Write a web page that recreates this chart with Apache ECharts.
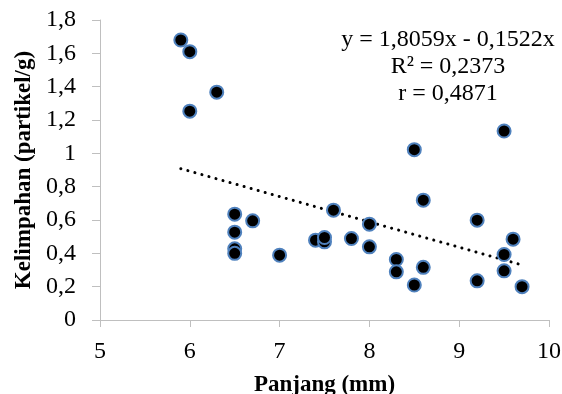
<!DOCTYPE html>
<html>
<head>
<meta charset="utf-8">
<script src="https://cdn.jsdelivr.net/npm/echarts@6/dist/echarts.min.js"></script>
<style>
html,body{margin:0;padding:0;background:#fff;}
#chart{width:562px;height:394px;}
</style>
</head>
<body>
<div id="chart"></div>
<script>
// Panjang (mm)
var lengths = [5.9, 6.0, 6.3, 6.0, 6.5, 6.7, 6.5, 6.5, 6.5, 7.0, 7.4, 7.5, 7.5, 7.6, 7.8, 8.0, 8.0, 8.3, 8.3, 8.5, 8.5, 8.6, 8.6, 9.2, 9.2, 9.5, 9.5, 9.5, 9.6, 9.7];
// Kelimpahan (partikel/g)
var abundance = [1.68, 1.61, 1.367, 1.253, 0.635, 0.595, 0.527, 0.427, 0.40, 0.389, 0.479, 0.469, 0.495, 0.659, 0.489, 0.575, 0.439, 0.363, 0.289, 1.022, 0.21, 0.719, 0.316, 0.599, 0.235, 1.134, 0.393, 0.295, 0.485, 0.2];
// Trendline end points
var trendX = [5.9, 9.7];
var trendY = [0.908, 0.330];
var eqLines = ['y = 1,8059x - 0,1522x', 'R\u00b2 = 0,2373', 'r = 0,4871'];
var xTitle = 'Panjang (mm)';
var yTitle = 'Kelimpahan (partikel/g)';

var points = lengths.map(function (x, i) { return [x, abundance[i]]; });
var trend = trendX.map(function (x, i) { return [x, trendY[i]]; });

var FONT = '"Liberation Serif", "Times New Roman", serif';
var fmt = function (v) { return String(+(+v).toFixed(1)).replace('.', ','); };

var chart = echarts.init(document.getElementById('chart'), null, {renderer: 'canvas'});
chart.setOption({
  animation: false,
  backgroundColor: '#ffffff',
  grid: {left: 100, right: 13, top: 20, bottom: 74, containLabel: false, outerBoundsMode: 'none'},
  xAxis: {
    type: 'value', min: 5, max: 10, interval: 1,
    name: xTitle, nameLocation: 'middle', nameGap: 54,
    nameTextStyle: {fontFamily: FONT, fontSize: 23, fontWeight: 'bold', color: '#000'},
    axisLine: {show: true, lineStyle: {color: '#bfbfbf', width: 1}},
    axisTick: {show: true, length: 7, lineStyle: {color: '#bfbfbf'}},
    axisLabel: {fontFamily: FONT, fontSize: 24, color: '#000', margin: 20, formatter: fmt},
    splitLine: {show: false}
  },
  yAxis: {
    type: 'value', min: 0, max: 1.8, interval: 0.2,
    name: yTitle, nameLocation: 'middle', nameGap: 63, nameRotate: 90,
    nameTextStyle: {fontFamily: FONT, fontSize: 23, fontWeight: 'bold', color: '#000'},
    axisLine: {show: true, lineStyle: {color: '#bfbfbf', width: 1}},
    axisTick: {show: true, length: 8, lineStyle: {color: '#bfbfbf'}},
    axisLabel: {fontFamily: FONT, fontSize: 24, color: '#000', margin: 24, formatter: fmt},
    splitLine: {show: false}
  },
  series: [
    {
      type: 'line', data: trend, symbol: 'none', z: 2,
      lineStyle: {color: '#000', width: 3, type: [0.1, 7.2], cap: 'round'}
    },
    {
      type: 'scatter', data: points, symbol: 'circle', symbolSize: 13, z: 3,
      itemStyle: {color: '#000', borderColor: '#4f81bd', borderWidth: 2, opacity: 1}
    }
  ],
  graphic: [{
    type: 'text', left: 448 - 110, top: 26,
    style: {
      text: eqLines.join('\n'), x: 0, y: 0,
      font: '24px ' + FONT, fill: '#000', textAlign: 'center', lineHeight: 27,
      width: 220, align: 'center'
    }
  }]
});
</script>
</body>
</html>
